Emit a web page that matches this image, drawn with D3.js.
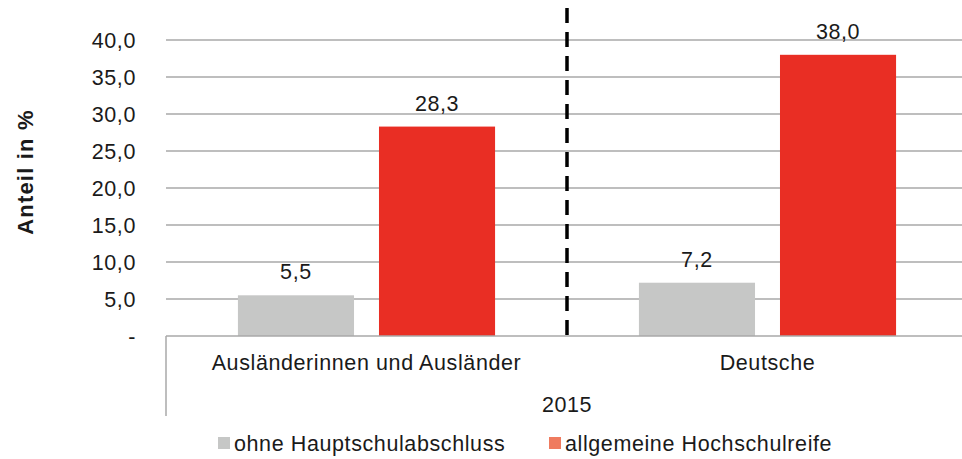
<!DOCTYPE html>
<html>
<head>
<meta charset="utf-8">
<script src="https://cdn.jsdelivr.net/npm/d3@7"></script>
<style>
  body { margin: 0; background: #fff; }
  svg text { font-family: "Liberation Sans", Arial, sans-serif; fill: #1a1a1a; letter-spacing: 0.6px; }
</style>
</head>
<body>
<div id="chart"></div>
<script>
// data
const categories = ['Ausländerinnen und Ausländer', 'Deutsche'];
const seriesNames = ['ohne Hauptschulabschluss', 'allgemeine Hochschulreife'];
const ohneHauptschul = [5.5, 7.2];
const hochschulreife = [28.3, 38.0];
const yTicks = [0, 5, 10, 15, 20, 25, 30, 35, 40];
const yearLabel = '2015';

const width = 962, height = 459;
const margin = { t: 40, r: -6, b: 123, l: 166 };
const barColors = ['#c6c7c6', '#e92e24'];
const legendColors = ['#c6c7c6', '#ef7b5f'];
const fs = 21.5;

const svg = d3.select('#chart').append('svg')
  .attr('width', width).attr('height', height);

const x0 = d3.scaleBand()
  .domain(categories)
  .range([margin.l, width - margin.r]);

const y = d3.scaleLinear()
  .domain([0, 40])
  .range([height - margin.b, margin.t]);

const x1 = d3.scaleBand()
  .domain(seriesNames)
  .range([0, x0.bandwidth()])
  .paddingInner(0.177)
  .paddingOuter(0.51);

const fmt = v => v === 0 ? '-' : d3.format('.1f')(v).replace('.', ',');

// grid
svg.append('g').selectAll('line')
  .data(yTicks.filter(d => d > 0))
  .join('line')
  .attr('x1', margin.l).attr('x2', width)
  .attr('y1', d => y(d)).attr('y2', d => y(d))
  .attr('stroke', '#a8a8a8').attr('stroke-width', 1.5);

// y tick labels
svg.append('g').selectAll('text')
  .data(yTicks)
  .join('text')
  .attr('x', 136)
  .attr('y', d => y(d))
  .attr('dy', '0.36em')
  .attr('text-anchor', 'end')
  .attr('font-size', fs)
  .text(fmt);

// y title
svg.append('text')
  .attr('transform', `translate(33, 172) rotate(-90)`)
  .attr('text-anchor', 'middle')
  .attr('font-size', 22)
  .attr('font-weight', 'bold')
  .style('letter-spacing', '1.2px')
  .text('Anteil in %');

// bars
const rows = categories.map((c, i) => ({ cat: c, vals: [ohneHauptschul[i], hochschulreife[i]] }));
const groups = svg.append('g').selectAll('g')
  .data(rows)
  .join('g')
  .attr('transform', d => `translate(${x0(d.cat)},0)`);

groups.selectAll('rect')
  .data(d => d.vals.map((v, j) => ({ s: seriesNames[j], v, j })))
  .join('rect')
  .attr('x', d => x1(d.s))
  .attr('width', x1.bandwidth())
  .attr('y', d => y(d.v))
  .attr('height', d => y(0) - y(d.v))
  .attr('fill', d => barColors[d.j]);

groups.selectAll('text.val')
  .data(d => d.vals.map((v, j) => ({ s: seriesNames[j], v, j })))
  .join('text')
  .attr('class', 'val')
  .attr('x', d => x1(d.s) + x1.bandwidth() / 2)
  .attr('y', d => y(d.v) - 16)
  .attr('text-anchor', 'middle')
  .attr('font-size', fs)
  .text(d => fmt(d.v));

// x axis line
svg.append('line')
  .attr('x1', margin.l).attr('x2', width)
  .attr('y1', y(0)).attr('y2', y(0))
  .attr('stroke', '#a8a8a8').attr('stroke-width', 1.5);
svg.append('line')
  .attr('x1', margin.l).attr('x2', margin.l)
  .attr('y1', y(0)).attr('y2', y(0) + 80)
  .attr('stroke', '#a8a8a8').attr('stroke-width', 1.5);

// category labels
svg.append('g').selectAll('text')
  .data(categories)
  .join('text')
  .attr('x', d => x0(d) + x0.bandwidth() / 2)
  .attr('y', y(0) + 34)
  .attr('text-anchor', 'middle')
  .attr('font-size', fs)
  .text(d => d);

svg.append('text')
  .attr('x', x0(categories[1]))
  .attr('y', y(0) + 76)
  .attr('text-anchor', 'middle')
  .attr('font-size', fs)
  .text(yearLabel);

// dashed separator
svg.append('line')
  .attr('x1', x0(categories[1])).attr('x2', x0(categories[1]))
  .attr('y1', 8).attr('y2', y(0))
  .attr('stroke', '#000').attr('stroke-width', 3.5)
  .attr('stroke-dasharray', '15,9');

// legend
const legendX = [218, 549];
const legend = svg.append('g').selectAll('g')
  .data(seriesNames)
  .join('g')
  .attr('transform', (d, i) => `translate(${legendX[i]}, 443)`);
legend.append('rect')
  .attr('x', 0).attr('y', -6).attr('width', 12).attr('height', 12)
  .attr('fill', (d, i) => legendColors[i]);
legend.append('text')
  .attr('x', 16).attr('dy', '0.36em')
  .attr('font-size', fs)
  .text(d => d);
</script>
</body>
</html>
